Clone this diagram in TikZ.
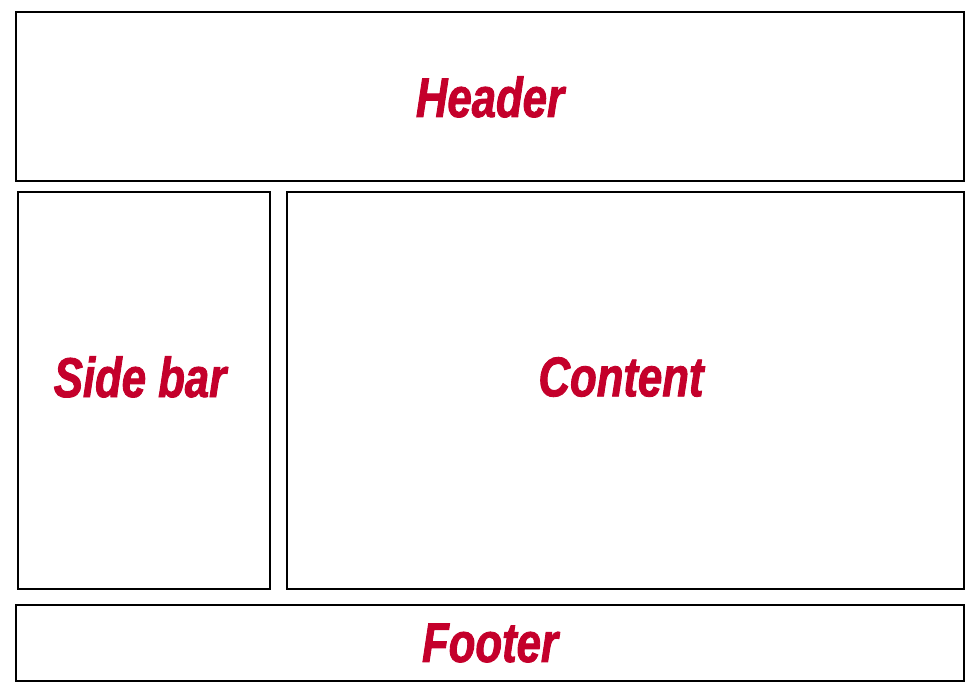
\documentclass[tikz,border=0pt]{standalone}
\usepackage{fontspec}
\setmainfont{Liberation Sans}[FakeStretch=0.78,BoldItalicFeatures={FakeBold=1.6}]
\definecolor{lbl}{HTML}{C4002B}
\begin{document}
\begin{tikzpicture}[x=1pt,y=-1pt,
  panel/.style={draw=black,line width=2pt,inner sep=0pt},
  lab/.style={text=lbl,font=\fontsize{56}{60}\selectfont\bfseries\itshape}]
\useasboundingbox (0,0) rectangle (980,700);
\draw[panel] (16,12) rectangle (964,181);
\draw[panel] (18,192) rectangle (270,589);
\draw[panel] (287,192) rectangle (964,589);
\draw[panel] (16,605) rectangle (964,681);
\node[lab] (header) at (490,97) {Header};
\node[lab] (side) at (140,377) {Side bar};
\node[lab] (content) at (621,377) {Content};
\node[lab] (footer) at (490,643) {Footer};
\end{tikzpicture}
\end{document}
